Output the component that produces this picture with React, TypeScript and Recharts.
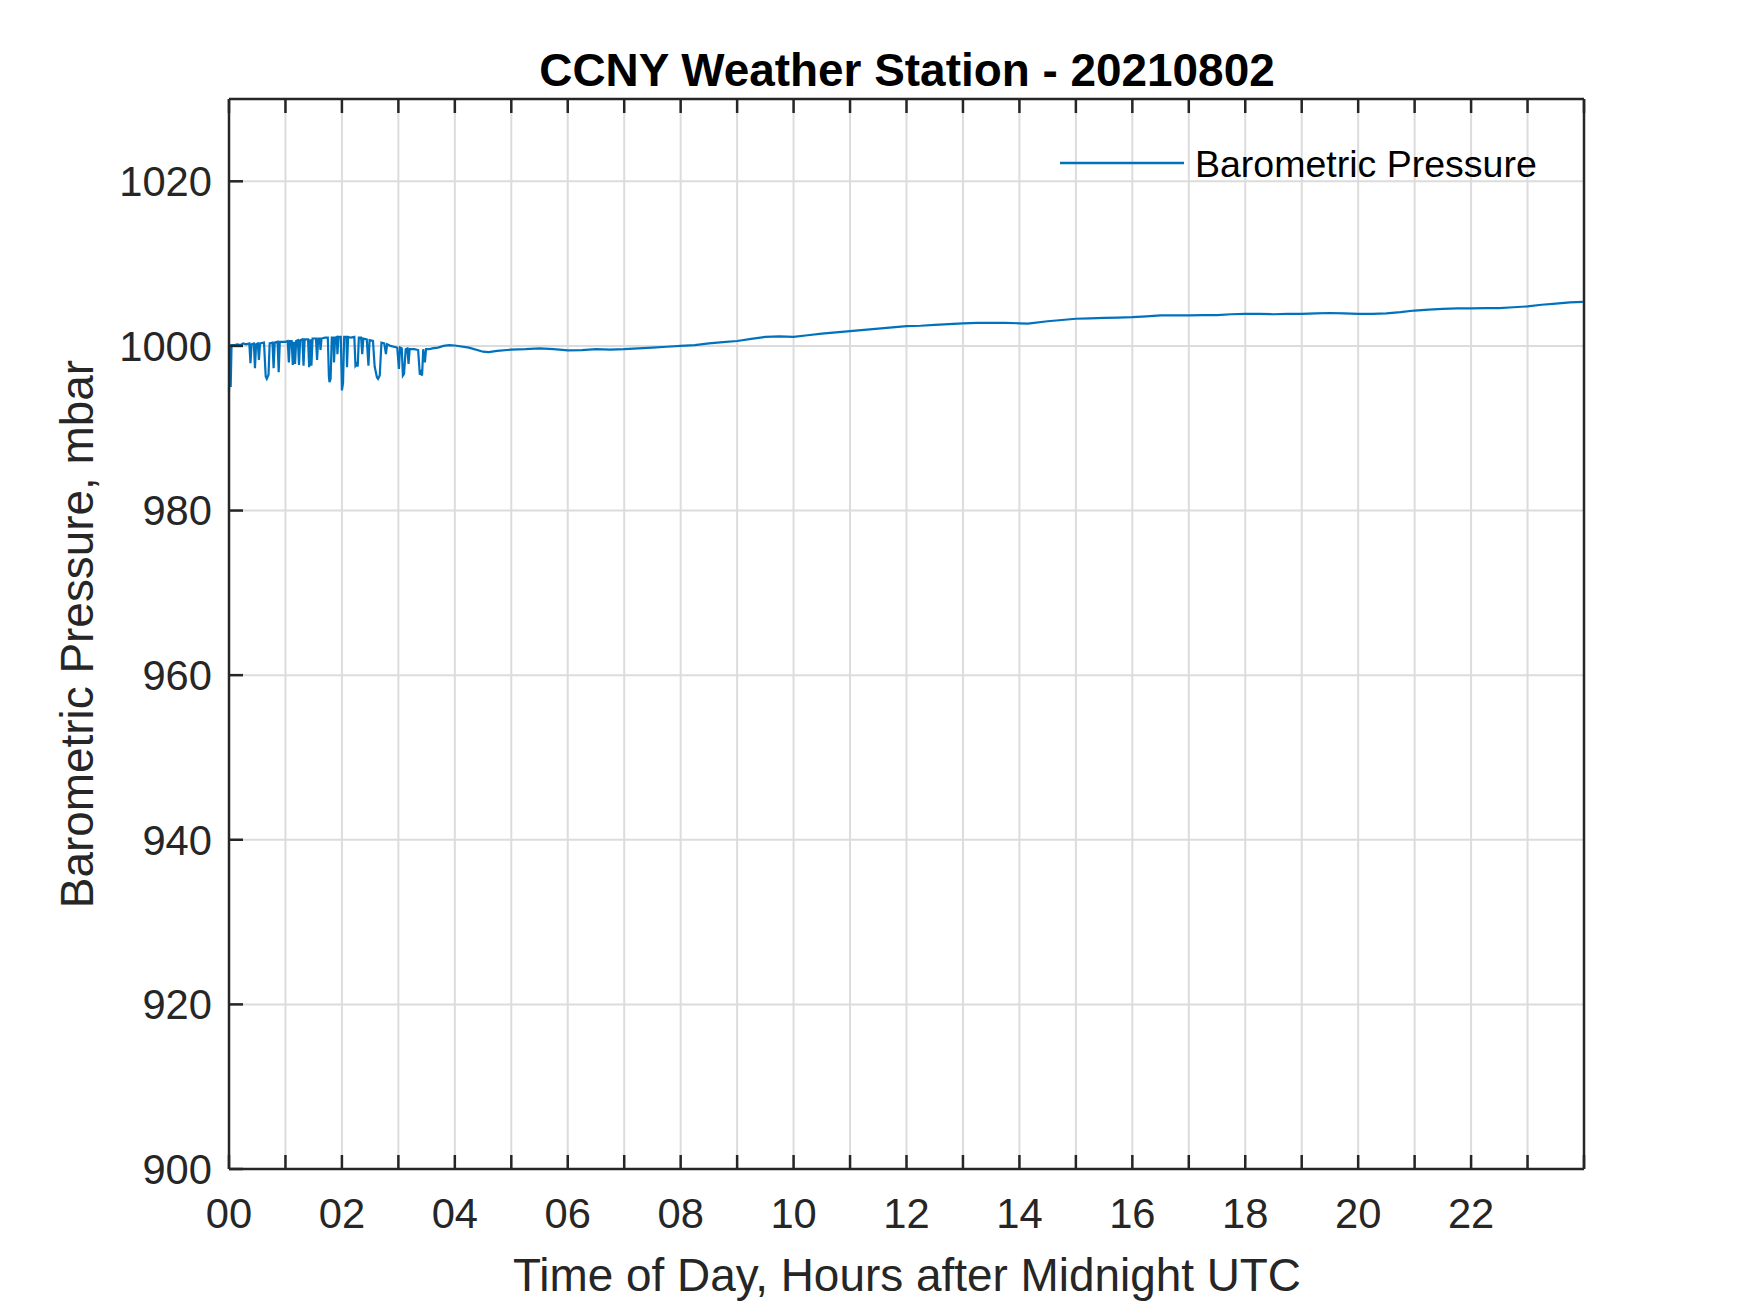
import { LineChart, Line, XAxis, YAxis, CartesianGrid } from 'recharts';

// time of day in hours after midnight UTC
const hours = [
  0.0, 0.01, 0.03, 0.045, 0.1, 0.15, 0.2, 0.25, 0.3, 0.36, 0.38, 0.4, 0.44, 0.46, 0.48, 0.51, 0.53, 0.55,
  0.62, 0.65, 0.67, 0.7, 0.72, 0.77, 0.79, 0.81, 0.86, 0.88, 0.9, 0.95, 1.0, 1.04, 1.06, 1.08, 1.11, 1.13,
  1.15, 1.17, 1.19, 1.22, 1.24, 1.26, 1.3, 1.32, 1.34, 1.4, 1.42, 1.44, 1.46, 1.48, 1.54, 1.56, 1.58, 1.61,
  1.62, 1.64, 1.7, 1.75, 1.77, 1.78, 1.8, 1.82, 1.85, 1.86, 1.88, 1.91, 1.92, 1.94, 1.98, 2.0, 2.02, 2.04,
  2.08, 2.09, 2.11, 2.16, 2.22, 2.24, 2.26, 2.28, 2.3, 2.34, 2.36, 2.38, 2.44, 2.47, 2.49, 2.55, 2.58, 2.62,
  2.64, 2.67, 2.7, 2.75, 2.78, 2.8, 2.86, 2.92, 2.98, 3.01, 3.03, 3.06, 3.08, 3.1, 3.13, 3.16, 3.18, 3.2,
  3.28, 3.35, 3.38, 3.4, 3.42, 3.44, 3.47, 3.49, 3.55, 3.6, 3.7, 3.8, 3.9, 4.0,
  4.25, 4.5, 4.6, 4.75, 5.0, 5.25, 5.5, 5.75, 6.0, 6.25, 6.5, 6.75, 7.0, 7.25, 7.5, 7.75, 8.0, 8.25, 8.5,
  8.75, 9.0, 9.25, 9.5, 9.75, 10.0, 10.25, 10.5, 10.75, 11.0, 11.25, 11.5, 11.75, 12.0, 12.25, 12.5, 12.75,
  13.0, 13.25, 13.5, 13.75, 14.0, 14.15, 14.5, 14.75, 15.0, 15.25, 15.5, 15.75, 16.0, 16.25, 16.5, 16.75,
  17.0, 17.25, 17.5, 17.75, 18.0, 18.25, 18.5, 18.75, 19.0, 19.25, 19.5, 19.75, 20.0, 20.25, 20.5, 20.75,
  21.0, 21.25, 21.5, 21.75, 22.0, 22.25, 22.5, 22.75, 23.0, 23.25, 23.5, 23.75, 23.98,
];

// barometric pressure, mbar
const pressure = [
  994.4, 1000.0, 995.0, 1000.1, 1000.1, 1000.2, 1000.1, 1000.3, 1000.2, 1000.3, 997.9, 1000.2, 1000.3, 997.3, 1000.2, 1000.3, 998.3, 1000.3,
  1000.4, 996.3, 996.0, 996.5, 1000.3, 1000.4, 997.3, 1000.4, 1000.5, 996.8, 1000.5, 1000.5, 1000.5, 1000.6, 998.0, 1000.6, 1000.6, 997.7,
  1000.5, 997.8, 1000.6, 1000.7, 997.7, 1000.7, 1000.8, 997.6, 1000.8, 1000.8, 997.4, 1000.8, 997.6, 1000.9, 1000.9, 998.3, 1000.9, 1000.9,
  999.5, 1000.9, 1001.0, 1001.0, 996.2, 995.6, 996.0, 1001.0, 1001.0, 998.0, 1001.0, 1001.1, 999.0, 1001.1, 1001.1, 994.6, 995.5, 1001.1,
  1001.1, 997.4, 1001.1, 1001.0, 1001.1, 997.6, 997.8, 997.5, 1001.0, 1001.0, 999.0, 1000.9, 1000.8, 997.6, 1000.7, 1000.6, 997.5, 996.2,
  996.0, 996.4, 1000.4, 1000.3, 999.0, 1000.2, 1000.0, 999.9, 999.8, 997.2, 999.8, 999.7, 996.4, 996.6, 999.6, 999.7, 997.8, 999.6,
  999.6, 999.5, 996.5, 996.8, 996.4, 999.6, 998.0, 999.6, 999.6, 999.7, 999.8, 1000.0, 1000.1, 1000.05,
  999.8, 999.3, 999.25, 999.4, 999.55, 999.6, 999.7, 999.6, 999.45, 999.5, 999.6, 999.55, 999.6, 999.7, 999.8, 999.9, 1000.0, 1000.1, 1000.3,
  1000.45, 1000.6, 1000.85, 1001.1, 1001.15, 1001.1, 1001.3, 1001.5, 1001.65, 1001.8, 1001.95, 1002.1, 1002.25, 1002.4, 1002.45, 1002.55, 1002.65,
  1002.75, 1002.8, 1002.8, 1002.8, 1002.75, 1002.7, 1003.0, 1003.15, 1003.3, 1003.35, 1003.4, 1003.45, 1003.5, 1003.6, 1003.7, 1003.7,
  1003.7, 1003.75, 1003.75, 1003.85, 1003.9, 1003.9, 1003.85, 1003.9, 1003.9, 1003.95, 1004.0, 1003.95, 1003.9, 1003.9, 1003.95, 1004.1,
  1004.3, 1004.4, 1004.5, 1004.55, 1004.55, 1004.6, 1004.6, 1004.7, 1004.8, 1005.0, 1005.15, 1005.3, 1005.35,
];

const hourTicks = [0, 1, 2, 3, 4, 5, 6, 7, 8, 9, 10, 11, 12, 13, 14, 15, 16, 17, 18, 19, 20, 21, 22, 23, 24];
const pressureTicks = [900, 920, 940, 960, 980, 1000, 1020];

const data = hours.map((h, i) => ({ h, p: pressure[i] }));

const FONT = "'Liberation Sans', Arial, Helvetica, sans-serif";
const AXIS = '#262626';
const BLUE = '#0072BD';

const axisLine = { stroke: AXIS, strokeWidth: 2.5 };
const tickFont = { fontSize: 41.7, fill: AXIS, fontFamily: FONT };

const hourLabel = (v: number) => (v % 2 === 0 && v < 24 ? String(v).padStart(2, '0') : '');

export default function App() {
  return (
    <div style={{ position: 'absolute', left: 0, top: 0, width: 1750, height: 1313, background: '#fff' }}>
      <LineChart width={1750} height={1313} data={data} margin={{ top: 98, right: 165, bottom: 94, left: 129 }}>
        <CartesianGrid stroke="#dcdcdc" strokeWidth={2} />
        <XAxis
          dataKey="h"
          type="number"
          domain={[0, 24]}
          ticks={hourTicks}
          interval={0}
          height={50}
          tickFormatter={hourLabel}
          axisLine={axisLine}
          tickLine={axisLine}
          tickSize={-14}
          tickMargin={43}
          tick={tickFont}
        />
        <XAxis
          xAxisId="top"
          orientation="top"
          dataKey="h"
          type="number"
          domain={[0, 24]}
          ticks={hourTicks}
          interval={0}
          height={1}
          tickFormatter={() => ''}
          axisLine={axisLine}
          tickLine={axisLine}
          tickSize={-14}
        />
        <YAxis
          type="number"
          domain={[900, 1030]}
          ticks={pressureTicks}
          interval={0}
          width={100}
          allowDataOverflow
          axisLine={axisLine}
          tickLine={axisLine}
          tickSize={-14}
          tickMargin={31}
          tick={tickFont}
        />
        <YAxis
          yAxisId="right"
          orientation="right"
          type="number"
          domain={[900, 1030]}
          ticks={pressureTicks}
          interval={0}
          width={1}
          tickFormatter={() => ''}
          axisLine={axisLine}
          tickLine={axisLine}
          tickSize={-14}
        />
        <Line
          dataKey="p"
          name="Barometric Pressure"
          stroke={BLUE}
          strokeWidth={2.2}
          dot={false}
          activeDot={false}
          isAnimationActive={false}
        />
      </LineChart>
      <svg
        width={1750}
        height={1313}
        style={{ position: 'absolute', left: 0, top: 0, pointerEvents: 'none' }}
      >
        <text x={907} y={86} textAnchor="middle" fontSize={45.9} fontWeight="bold" fontFamily={FONT} fill="#000">
          CCNY Weather Station - 20210802
        </text>
        <line x1={1060} x2={1184} y1={163} y2={163} stroke={BLUE} strokeWidth={2.5} />
        <text x={1195} y={177} fontSize={37.5} fontFamily={FONT} fill="#000">
          Barometric Pressure
        </text>
        <text x={907} y={1291} textAnchor="middle" fontSize={45.9} fontFamily={FONT} fill={AXIS}>
          Time of Day, Hours after Midnight UTC
        </text>
        <text
          transform="translate(93,634) rotate(-90)"
          textAnchor="middle"
          fontSize={45.9}
          fontFamily={FONT}
          fill={AXIS}
        >
          Barometric Pressure, mbar
        </text>
      </svg>
    </div>
  );
}
